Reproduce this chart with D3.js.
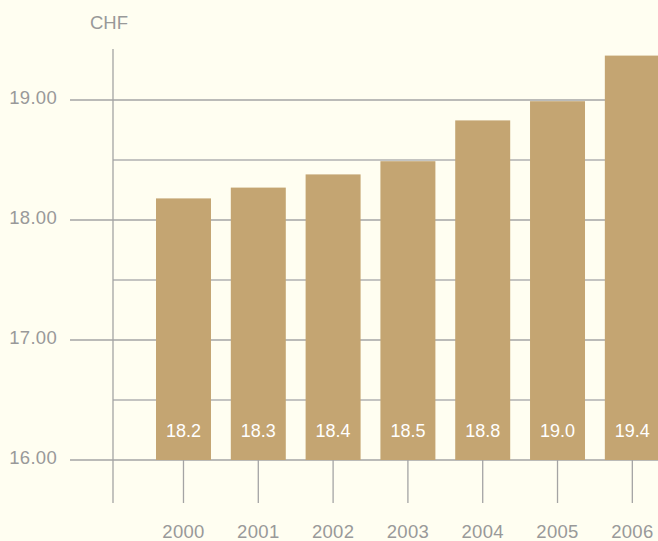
<!DOCTYPE html>
<html>
<head>
<meta charset="utf-8">
<script src="https://cdn.jsdelivr.net/npm/d3@7"></script>
<style>
  html, body { margin: 0; padding: 0; background: #fffef1; }
  svg { display: block; font-family: "Liberation Sans", Arial, Helvetica, sans-serif; }
</style>
</head>
<body>
<svg id="drawing_region"></svg>
<script>
// values
var years = ['2000', '2001', '2002', '2003', '2004', '2005', '2006'];
var values = [18.18, 18.27, 18.38, 18.49, 18.83, 18.99, 19.37];
var majorTicks = [16, 17, 18, 19];
var minorTicks = [16.5, 17.5, 18.5];
var unit = 'CHF';

var width = 658, height = 541;
var svg = d3.select('#drawing_region')
    .attr('width', width)
    .attr('height', height);

var yscale = d3.scaleLinear()
    .domain([16, 19.5])
    .range([460, 40]);

var step = 74.83;
var xscale = d3.scaleBand()
    .domain(years)
    .range([156 - 10, 156 - 10 + 7 * step])
    .paddingInner((step - 55) / step)
    .paddingOuter(10 / step);

var axisX = 113;
var grey = '#999999';

// minor grid lines
svg.append('g').selectAll('line')
    .data(minorTicks)
    .join('line')
    .attr('x1', axisX).attr('x2', width)
    .attr('y1', d => yscale(d)).attr('y2', d => yscale(d))
    .attr('stroke', '#b0b0b0').attr('stroke-width', 1.3);

// major grid lines with ticks to the left
svg.append('g').selectAll('line')
    .data(majorTicks)
    .join('line')
    .attr('x1', 70).attr('x2', width)
    .attr('y1', d => yscale(d)).attr('y2', d => yscale(d))
    .attr('stroke', '#a4a4a4').attr('stroke-width', 1.3);

// y tick labels
svg.append('g').selectAll('text')
    .data(majorTicks)
    .join('text')
    .attr('x', 57)
    .attr('y', d => yscale(d) + 4)
    .attr('text-anchor', 'end')
    .attr('fill', grey)
    .attr('font-size', 18.5)
    .attr('letter-spacing', 0.3)
    .text(d => d3.format('.2f')(d));

// y axis line
svg.append('line')
    .attr('x1', axisX).attr('x2', axisX)
    .attr('y1', 49).attr('y2', 503)
    .attr('stroke', '#a4a4a4').attr('stroke-width', 1.3);

svg.append('text')
    .attr('x', 109).attr('y', 29)
    .attr('text-anchor', 'middle')
    .attr('fill', grey)
    .attr('font-size', 18.5)
    .text(unit);

// x ticks
svg.append('g').selectAll('line')
    .data(years)
    .join('line')
    .attr('x1', d => xscale(d) + xscale.bandwidth() / 2)
    .attr('x2', d => xscale(d) + xscale.bandwidth() / 2)
    .attr('y1', yscale(16)).attr('y2', 503)
    .attr('stroke', '#a4a4a4').attr('stroke-width', 1.3);

// bars
svg.append('g').selectAll('rect')
    .data(values)
    .join('rect')
    .attr('x', (d, i) => xscale(years[i]))
    .attr('y', d => yscale(d))
    .attr('width', xscale.bandwidth())
    .attr('height', d => yscale(16) - yscale(d))
    .attr('fill', '#c4a572');

// value labels
svg.append('g').selectAll('text')
    .data(values)
    .join('text')
    .attr('x', (d, i) => xscale(years[i]) + xscale.bandwidth() / 2)
    .attr('y', 437)
    .attr('text-anchor', 'middle')
    .attr('fill', '#ffffff')
    .attr('font-size', 18)
    .text(d => d3.format('.1f')(d));

// year labels
svg.append('g').selectAll('text')
    .data(years)
    .join('text')
    .attr('x', d => xscale(d) + xscale.bandwidth() / 2)
    .attr('y', 538)
    .attr('text-anchor', 'middle')
    .attr('fill', grey)
    .attr('font-size', 18.5)
    .attr('letter-spacing', 0.3)
    .text(d => d);
</script>
</body>
</html>
